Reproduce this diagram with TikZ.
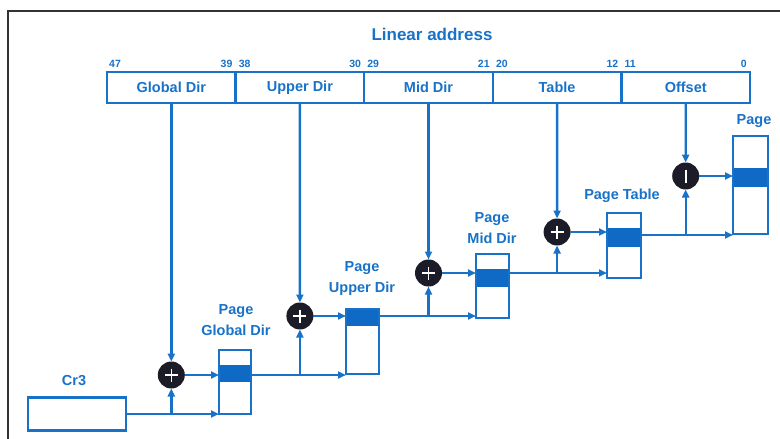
\documentclass[tikz,border=0pt]{standalone}
\usepackage{fontspec}
\setmainfont{Liberation Sans}
\usetikzlibrary{arrows.meta,calc}
\definecolor{ablue}{RGB}{24,114,200}
\definecolor{bandblue}{RGB}{14,106,196}
\definecolor{cdark}{RGB}{28,28,40}
\begin{document}
\begin{tikzpicture}[x=1pt,y=-1pt,
  lbl/.style={text=ablue,font=\bfseries\fontsize{14.5}{21}\selectfont,inner sep=0,align=center},
  bitno/.style={text=ablue,font=\bfseries\fontsize{10.5}{12}\selectfont,inner sep=0},
  seg/.style={draw=ablue,line width=2.4pt,minimum width=128.6pt,minimum height=31pt,inner sep=0,outer sep=0,anchor=west,text=ablue,font=\bfseries\fontsize{14.5}{17}\selectfont},
  tbl/.style={draw=ablue,line width=2.4pt,inner sep=0,outer sep=0},
  band/.style={fill=bandblue},
  adder/.style={circle,fill=cdark,minimum size=27pt,inner sep=0,outer sep=0,
    path picture={\draw[white,line width=1.6pt]
      ($(path picture bounding box.center)+(-6.5,0)$) -- ($(path picture bounding box.center)+(6.5,0)$)
      ($(path picture bounding box.center)+(0,-6.5)$) -- ($(path picture bounding box.center)+(0,6.5)$);}},
  offadd/.style={circle,fill=cdark,minimum size=27pt,inner sep=0,outer sep=0,
    path picture={\draw[white,line width=1.8pt]
      ($(path picture bounding box.center)+(0,-6.5)$) -- ($(path picture bounding box.center)+(0,6.5)$);}},
  conn/.style={draw=ablue,line width=2.4pt},
  arr/.style={conn,-{Triangle[length=8pt,width=7pt]}}
]
\useasboundingbox (0,0) rectangle (780,439);
% frame
\draw[black!80,line width=1.5pt] (8,439) -- (8,11) -- (780,11);
% title
\node[lbl,font=\bfseries\fontsize{17}{20}\selectfont] (title) at (432,34) {Linear address};
% address bar
\node[seg] (gd) at (107,87.5) {Global Dir};
\node[seg] (ud) at (gd.east) {Upper Dir};
\node[seg] (md) at (ud.east) {Mid Dir};
\node[seg] (tb) at (md.east) {Table};
\node[seg] (of) at (tb.east) {Offset};
% bit numbers
\node[bitno,anchor=south west] (b47) at ($(gd.north west)+(2,-4)$) {47};
\node[bitno,anchor=south east] (b39) at ($(gd.north east)+(-3,-4)$) {39};
\node[bitno,anchor=south west] (b38) at ($(ud.north west)+(3,-4)$) {38};
\node[bitno,anchor=south east] (b30) at ($(ud.north east)+(-3,-4)$) {30};
\node[bitno,anchor=south west] (b29) at ($(md.north west)+(3,-4)$) {29};
\node[bitno,anchor=south east] (b21) at ($(md.north east)+(-3,-4)$) {21};
\node[bitno,anchor=south west] (b20) at ($(tb.north west)+(3,-4)$) {20};
\node[bitno,anchor=south east] (b12) at ($(tb.north east)+(-3,-4)$) {12};
\node[bitno,anchor=south west] (b11) at ($(of.north west)+(3,-4)$) {11};
\node[bitno,anchor=south east] (b0) at ($(of.north east)+(-3,-4)$) {0};
% bands
\fill[band] (219,365) rectangle (251,382);
\fill[band] (346,309) rectangle (379,326);
\fill[band] (476,269) rectangle (509,287);
\fill[band] (607,228) rectangle (641,247);
\fill[band] (733,168) rectangle (768,187);
% tables
\node[tbl,minimum width=98pt,minimum height=33pt] (cr3) at (77,414) {};
\node[tbl,minimum width=32pt,minimum height=64pt] (pgd) at (235,382) {};
\node[tbl,minimum width=33pt,minimum height=65pt] (pud) at (362.5,341.5) {};
\node[tbl,minimum width=33pt,minimum height=64pt] (pmd) at (492.5,286) {};
\node[tbl,minimum width=34pt,minimum height=65pt] (pt) at (624,245.5) {};
\node[tbl,minimum width=35pt,minimum height=98pt] (pg) at (750.5,185) {};
% labels
\node[lbl] (lcr3) at (74,381) {Cr3};
\node[lbl] (lpgd) at (236,320) {Page\\Global Dir};
\node[lbl] (lpud) at (362,279) {Page\\Upper Dir};
\node[lbl] (lpmd) at (492,228) {Page\\Mid Dir};
\node[lbl] (lpt) at (622,196) {Page Table};
\node[lbl] (lpg) at (754,121) {Page};
% adders
\node[adder] (a1) at (171.3,375) {};
\node[adder] (a2) at (299.9,316) {};
\node[adder] (a3) at (428.5,273) {};
\node[adder] (a4) at (557.1,232) {};
\node[offadd] (a5) at (685.7,176) {};
% down lines from address fields
\draw[arr] (gd.south) -- (a1.north);
\draw[arr] (ud.south) -- (a2.north);
\draw[arr] (md.south) -- (a3.north);
\draw[arr] (tb.south) -- (a4.north);
\draw[arr] (of.south) -- (a5.north);
% Cr3 to PGD
\draw[arr] (cr3.east) -- (cr3.east -| pgd.west);
\draw[arr] (a1.south |- cr3.east) -- (a1.south);
\draw[arr] (a1.east) -- (a1.east -| pgd.west);
% PGD to PUD
\draw[arr] (pgd.east |- a1.center) -- (a1.center -| pud.west);
\draw[arr] (a2.south |- a1.center) -- (a2.south);
\draw[arr] (a2.east) -- (a2.east -| pud.west);
% PUD to PMD
\draw[arr] (pud.east |- a2.center) -- (a2.center -| pmd.west);
\draw[arr] (a3.south |- a2.center) -- (a3.south);
\draw[arr] (a3.east) -- (a3.east -| pmd.west);
% PMD to PT
\draw[arr] (pmd.east |- a3.center) -- (a3.center -| pt.west);
\draw[arr] (a4.south |- a3.center) -- (a4.south);
\draw[arr] (a4.east) -- (a4.east -| pt.west);
% PT to Page
\coordinate (ptout) at (641,235);
\draw[arr] (pt.east |- ptout) -- (ptout -| pg.west);
\draw[arr] (a5.south |- ptout) -- (a5.south);
\draw[arr] (a5.east) -- (a5.east -| pg.west);
\end{tikzpicture}
\end{document}
